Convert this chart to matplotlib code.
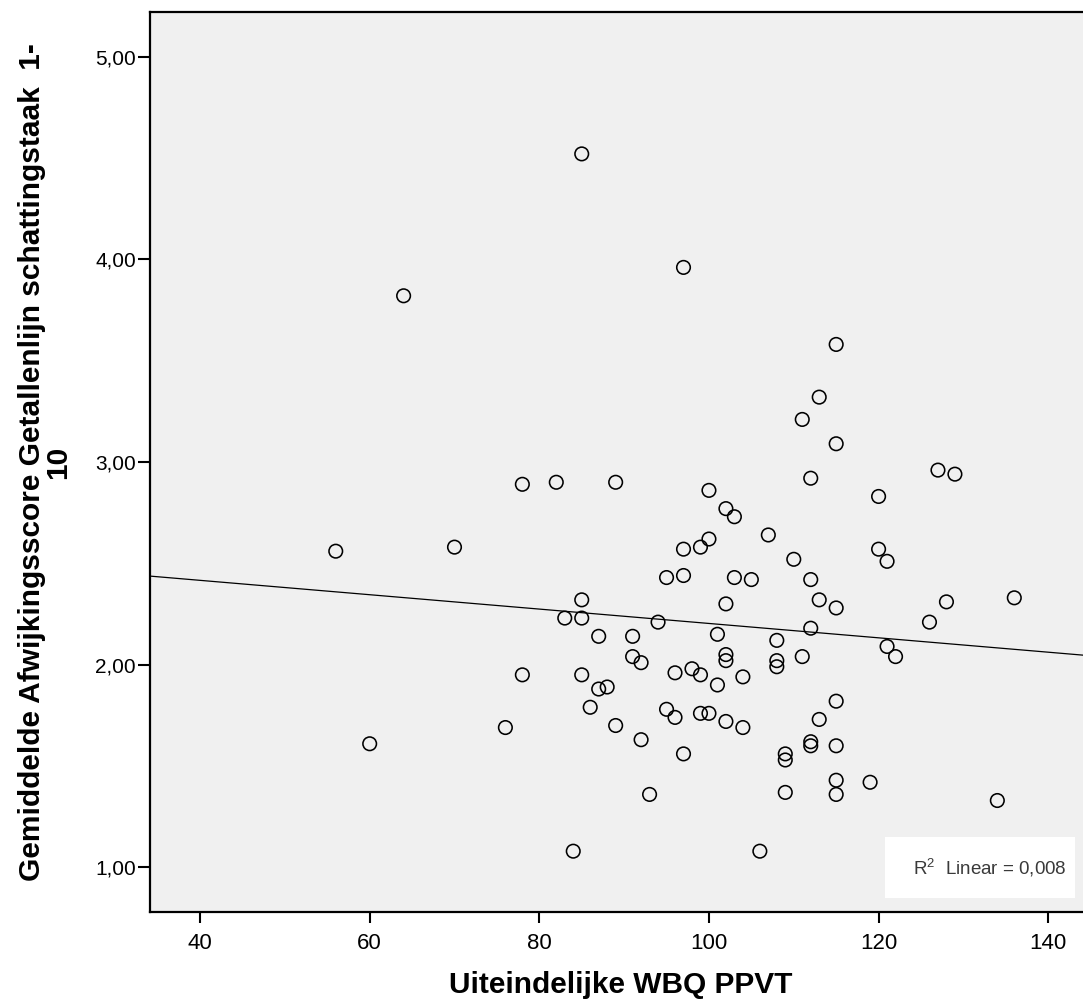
import numpy as np
import matplotlib
matplotlib.use("Agg")
import matplotlib.pyplot as plt
from matplotlib.patches import Rectangle
from matplotlib.ticker import FuncFormatter

# Uiteindelijke WBQ PPVT (x) vs Gemiddelde Afwijkingsscore (y)
ppvt = [85, 97, 64, 115, 113, 111, 115, 127, 129, 112,
        78, 82, 89, 100, 120, 102, 103, 107, 100, 97,
        99, 120, 56, 70, 110, 121, 95, 97, 103, 105,
        112, 85, 113, 128, 136, 115, 102, 85, 83, 94,
        126, 112, 101, 108, 87, 91, 121, 122, 102, 111,
        91, 92, 102, 108, 108, 98, 96, 99, 104, 78,
        85, 101, 87, 88, 115, 86, 95, 96, 99, 100,
        113, 102, 89, 76, 104, 60, 92, 112, 112, 115,
        97, 109, 109, 115, 119, 93, 109, 115, 134, 84,
        106]
afwijking = [4.52, 3.96, 3.82, 3.58, 3.32, 3.21, 3.09, 2.96, 2.94, 2.92,
             2.89, 2.90, 2.90, 2.86, 2.83, 2.77, 2.73, 2.64, 2.62, 2.57,
             2.58, 2.57, 2.56, 2.58, 2.52, 2.51, 2.43, 2.44, 2.43, 2.42,
             2.42, 2.32, 2.32, 2.31, 2.33, 2.28, 2.30, 2.23, 2.23, 2.21,
             2.21, 2.18, 2.15, 2.12, 2.14, 2.14, 2.09, 2.04, 2.05, 2.04,
             2.04, 2.01, 2.02, 2.02, 1.99, 1.98, 1.96, 1.95, 1.94, 1.95,
             1.95, 1.90, 1.88, 1.89, 1.82, 1.79, 1.78, 1.74, 1.76, 1.76,
             1.73, 1.72, 1.70, 1.69, 1.69, 1.61, 1.63, 1.62, 1.60, 1.60,
             1.56, 1.56, 1.53, 1.43, 1.42, 1.36, 1.37, 1.36, 1.33, 1.08,
             1.08]

# fit line as drawn in the chart (intercept, slope)
fit_intercept = 2.558
fit_slope = -0.003545
r2_text = "R$^2$  Linear = 0,008"

x_ticks = [40, 60, 80, 100, 120, 140]
y_ticks = [1, 2, 3, 4, 5]

plt.rcParams['font.family'] = ['Liberation Sans', 'DejaVu Sans']
plt.rcParams['mathtext.fontset'] = 'custom'
plt.rcParams['mathtext.rm'] = 'Liberation Sans'

fig = plt.figure(figsize=(10.83, 10.07), dpi=100)
ax = fig.add_axes([150 / 1083, 1 - 912 / 1007, 933 / 1083, 900 / 1007])
ax.set_facecolor("#f0f0f0")

ax.scatter(ppvt, afwijking, s=95, facecolors="none", edgecolors="black",
           linewidths=1.15, zorder=3)

xlim = (34.1, 144.1)
xs = np.array(xlim)
ax.plot(xs, fit_intercept + fit_slope * xs, color="black", lw=0.9, zorder=2)

ax.set_xlim(*xlim)
ax.set_ylim(0.78, 5.22)
ax.set_xticks(x_ticks)
ax.set_yticks(y_ticks)
ax.yaxis.set_major_formatter(FuncFormatter(lambda v, p: f"{v:.2f}".replace(".", ",")))

for s in ["top", "left", "bottom"]:
    ax.spines[s].set_linewidth(1.6)
ax.spines["right"].set_visible(False)
ax.tick_params(axis="y", direction="out", length=9, width=1.5, labelsize=15, pad=1)
ax.tick_params(axis="x", direction="out", length=8, width=1.5, labelsize=16, pad=7)

ax.set_xlabel("Uiteindelijke WBQ PPVT", fontsize=21.5, fontweight="bold")
ax.xaxis.set_label_coords((621 - 150) / 933, -0.066)
ax.set_ylabel("Gemiddelde Afwijkingsscore Getallenlijn schattingstaak  1-\n10",
              fontsize=21.5, fontweight="bold", linespacing=0.92)
ax.yaxis.set_label_coords(-0.083, 0.5)

# R2 label box
ax.add_patch(Rectangle((0.7878, 0.0156), 0.2036, 0.0677, transform=ax.transAxes,
                       facecolor="white", edgecolor="none", zorder=4))
ax.text(0.9829, 0.0494, r2_text, transform=ax.transAxes, ha="right", va="center",
        fontsize=13.5, color="#3a3a3a", zorder=5)

fig.savefig("out.png", dpi=100)
